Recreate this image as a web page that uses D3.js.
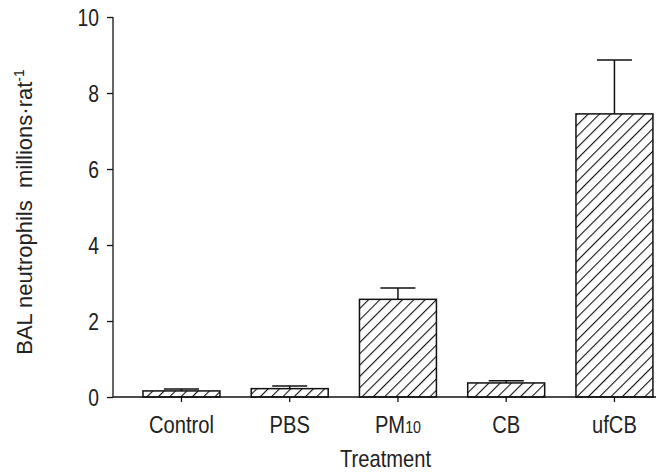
<!DOCTYPE html>
<html>
<head>
<meta charset="utf-8">
<script src="https://cdn.jsdelivr.net/npm/d3@7"></script>
<style>
body{margin:0;background:#fff;}
svg text{font-family:"Liberation Sans",Arial,sans-serif;fill:#222;}
</style>
</head>
<body>
<svg id="chart" width="656" height="472"></svg>
<script>
// data
var categories=['Control','PBS','PM10','CB','ufCB'];
var means=[0.16,0.22,2.57,0.37,7.45];
var upperErr=[0.21,0.29,2.87,0.43,8.87];
var yTicks=[0,2,4,6,8,10];

var svg=d3.select('#chart');
var W=656,H=472;
var padLeft=113,padTop=17,padBottom=397;
var sx=0.84; // the figure uses a condensed face

var y=d3.scaleLinear().domain([0,10]).range([padBottom,padTop]);
var x=d3.scaleBand().domain(categories).range([110.5,685.4]).paddingInner(0.289).paddingOuter(0.3);

// hatch pattern
var defs=svg.append('defs');
var pat=defs.append('pattern')
    .attr('id','hatch')
    .attr('patternUnits','userSpaceOnUse')
    .attr('width',8).attr('height',8)
    .attr('patternTransform','rotate(45)');
pat.append('line')
    .attr('x1',0).attr('y1',0).attr('x2',0).attr('y2',8)
    .attr('stroke','#111').attr('stroke-width',2.2);

var g=svg.append('g');

// bars
g.selectAll('rect.bar').data(categories).enter().append('rect')
    .attr('class','bar')
    .attr('x',function(d){return x(d);})
    .attr('width',x.bandwidth())
    .attr('y',function(d,i){return y(means[i]);})
    .attr('height',function(d,i){return y(0)-y(means[i]);})
    .attr('fill','url(#hatch)')
    .attr('stroke','#111').attr('stroke-width',1.5);

// error bars (upper only)
var capW=35;
categories.forEach(function(d,i){
    var cx=x(d)+x.bandwidth()/2;
    g.append('line')
        .attr('x1',cx).attr('x2',cx)
        .attr('y1',y(means[i])).attr('y2',y(upperErr[i]))
        .attr('stroke','#111').attr('stroke-width',1.5);
    g.append('line')
        .attr('x1',cx-capW/2).attr('x2',cx+capW/2)
        .attr('y1',y(upperErr[i])).attr('y2',y(upperErr[i]))
        .attr('stroke','#111').attr('stroke-width',1.5);
});

// y axis
var yAxis=d3.axisLeft(y).tickValues(yTicks).tickSize(6).tickFormat(d3.format('d'));
var YA=g.append('g').attr('transform','translate('+padLeft+',0)').call(yAxis);
YA.select('.domain').remove();
YA.selectAll('.tick text')
    .attr('x',null).attr('dy',null)
    .attr('transform','translate(-14,8) scale('+sx+',1)')
    .style('font-size','23px').attr('fill','#222');
g.append('line').attr('x1',padLeft).attr('x2',padLeft).attr('y1',padTop).attr('y2',padBottom)
    .attr('stroke','#111').attr('stroke-width',1.3);

// x axis
var xAxis=d3.axisBottom(x).tickSize(5).tickFormat('');
var XA=g.append('g').attr('transform','translate(0,'+padBottom+')').call(xAxis);
XA.select('.domain').remove();
g.append('line').attr('x1',padLeft).attr('x2',W).attr('y1',padBottom).attr('y2',padBottom)
    .attr('stroke','#111').attr('stroke-width',1.3);

svg.selectAll('.tick line').attr('stroke','#111').attr('stroke-width',1.3);

// category labels (PM10 has small "10")
categories.forEach(function(d){
    var t=g.append('text')
        .attr('transform','translate('+(x(d)+x.bandwidth()/2)+',433) scale('+sx+',1)')
        .attr('text-anchor','middle')
        .style('font-size','24px');
    if(d==='PM10'){
        t.append('tspan').text('PM');
        t.append('tspan').text('10').style('font-size','17px');
    } else {
        t.text(d);
    }
});

// axis titles
g.append('text')
    .attr('transform','translate('+((padLeft+W)/2+1)+',467) scale('+sx+',1)')
    .attr('text-anchor','middle')
    .style('font-size','24px')
    .text('Treatment');

var yl=g.append('text')
    .attr('transform','translate(32,212) rotate(-90)')
    .attr('text-anchor','middle')
    .style('font-size','22px');
yl.append('tspan').text('BAL neutrophils\u00a0\u00a0millions\u00b7rat');
yl.append('tspan').text('-1').attr('dy',-8).style('font-size','14px');
</script>
</body>
</html>
